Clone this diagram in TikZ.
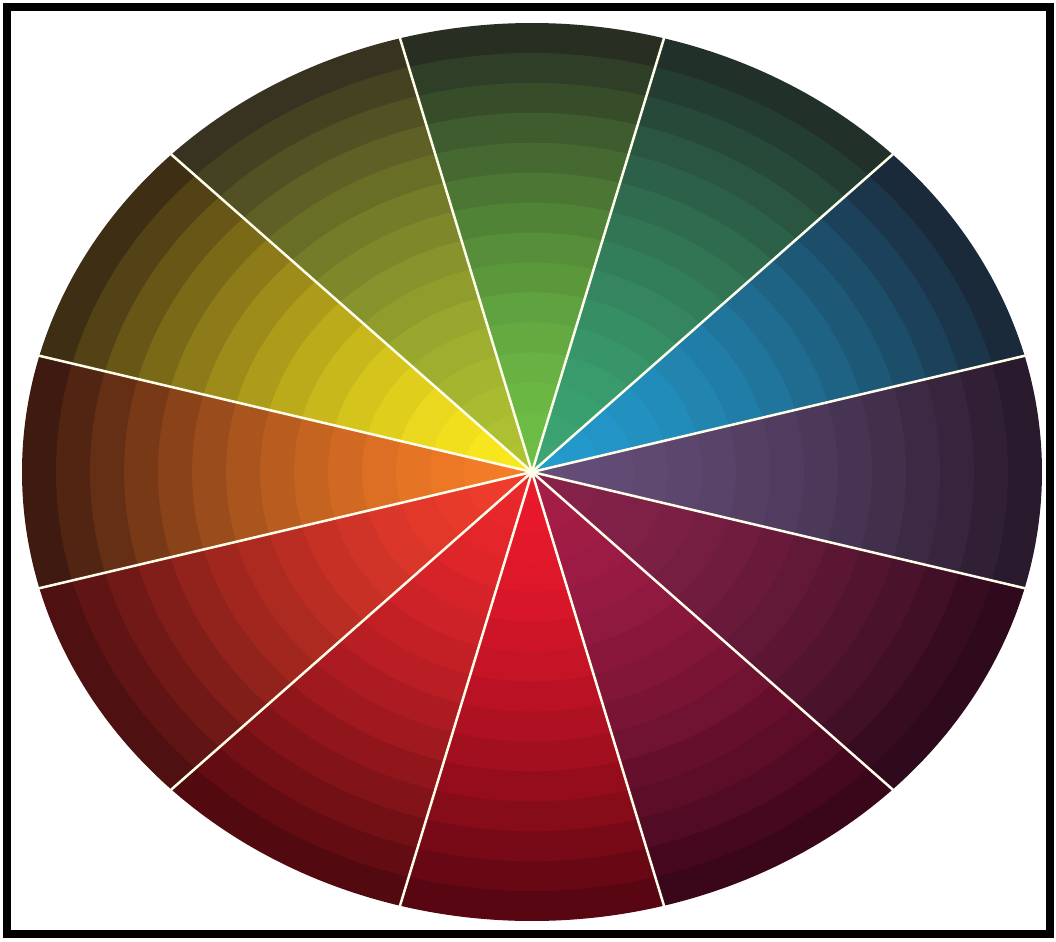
\documentclass[tikz,border=0pt]{standalone}
\usepackage{tikz}

\tikzset{
    wheelframe/.style={draw=black, line width=0.16cm},
    spoke/.style={draw=white!92!yellow, line width=0.05cm, line cap=round}
}

\begin{document}
\begin{tikzpicture}[x=0.02cm, y=0.02cm]
        \useasboundingbox (-532,-469) rectangle (524,472);

        % Frame
        \draw[wheelframe] (-525,-462) rectangle (518,465);

        \coordinate (c) at (0,0);

        % Sectors: angle / inner RGB / outer RGB
        \foreach \ang/\ri/\gi/\bi/\ro/\go/\bo in {0/100/78/120/42/26/45,
            30/35/155/205/26/42/58, 60/60/165/115/34/48/42,
            90/110/190/70/40/46/34, 120/175/195/50/56/50/32,
            150/250/232/30/62/46/20, 180/245/125/40/62/26/16,
            210/240/60/45/78/16/16, 240/235/40/45/82/10/16,
            270/235/25/45/88/6/18, 300/165/30/72/58/6/26,
            330/135/35/75/46/10/28}
        {
            \foreach \j in {15,14,...,1} {
                \pgfmathsetmacro\radx{510*\j/15}
                \pgfmathsetmacro\rady{449*\j/15}
                \pgfmathsetmacro\angA{\ang-15}
                \pgfmathsetmacro\angB{\ang+15}
                \pgfmathsetmacro\startx{\radx*cos(\angA)}
                \pgfmathsetmacro\starty{\rady*sin(\angA)}
                \pgfmathsetmacro\mixw{((\j-1)/14)^1.6}
                \pgfmathtruncatemacro\bandR{\ri+(\ro-\ri)*\mixw}
                \pgfmathtruncatemacro\bandG{\gi+(\go-\gi)*\mixw}
                \pgfmathtruncatemacro\bandB{\bi+(\bo-\bi)*\mixw}
                \definecolor{band}{RGB}{\bandR,\bandG,\bandB}
                \fill[band] (c) -- (\startx,\starty)
                    arc[start angle=\angA, end angle=\angB,
                        x radius=\radx, y radius=\rady] -- cycle;
            }
        }

        % Spokes
        \foreach \k in {0,...,11} {
            \pgfmathsetmacro\rimx{510*cos(\k*30+15)}
            \pgfmathsetmacro\rimy{449*sin(\k*30+15)}
            \coordinate (rim\k) at (\rimx,\rimy);
            \draw[spoke] (c) -- (rim\k);
        }
    \end{tikzpicture}
\end{document}
